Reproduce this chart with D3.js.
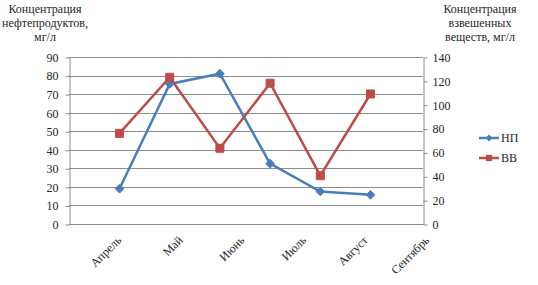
<!DOCTYPE html>
<meta charset="utf-8">
<head>
    <script src="https://d3js.org/d3.v7.min.js"></script>
    <style>
        body { margin: 0; background: #fff; }
    </style>
</head>
<body>
<div id="my_dataviz"></div>
</body>

<script>

    // data
    var months = ["Апрель", "Май", "Июнь", "Июль", "Август", "Сентябрь"];
    var np = [19, 75.5, 81, 32.5, 17.5, 15.7];       // нефтепродукты, left axis
    var vv = [76, 123, 63.5, 118, 40.5, 109];        // взвешенные вещества, right axis
    var leftTicks = [0, 10, 20, 30, 40, 50, 60, 70, 80, 90];
    var rightTicks = [0, 20, 40, 60, 80, 100, 120, 140];
    var seriesNames = ["НП", "ВВ"];

    var width = 538, height = 285;
    var plot = {left: 69, right: 423, top: 57, bottom: 224};
    var font = "'Liberation Serif', 'Times New Roman', serif";
    var textColor = "#262626";

    var svg = d3.select("#my_dataviz")
        .append("svg")
        .attr("width", width)
        .attr("height", height)
        .style("font-family", font);

    var yL = d3.scaleLinear().domain([0, 90]).range([plot.bottom, plot.top]);
    var yR = d3.scaleLinear().domain([0, 140]).range([plot.bottom, plot.top]);
    // points sit on their own slots, labels are placed a bit to the right
    var x = d3.scalePoint().domain(months).range([119.5, 370.5]);
    var xLab = d3.scalePoint().domain(months).range([122, 430]);

    var grey = "#8c8c8c";

    // gridlines
    svg.append("g")
        .selectAll("line")
        .data(leftTicks.slice(1))
        .enter().append("line")
        .attr("x1", plot.left)
        .attr("x2", plot.right)
        .attr("y1", function(d) { return Math.round(yL(d)) + 0.5; })
        .attr("y2", function(d) { return Math.round(yL(d)) + 0.5; })
        .attr("stroke", grey)
        .attr("stroke-width", 1);

    // left axis
    var gL = svg.append("g")
        .attr("transform", "translate(" + (plot.left + 0.5) + ",0.5)")
        .call(d3.axisLeft(yL).tickValues(leftTicks).tickSizeInner(4).tickSizeOuter(0).tickPadding(7));

    // right axis
    var gR = svg.append("g")
        .attr("transform", "translate(" + (plot.right + 0.5) + ",0.5)")
        .call(d3.axisRight(yR).tickValues(rightTicks).tickSizeInner(4).tickSizeOuter(0).tickPadding(5));

    [gL, gR].forEach(function(g) {
        g.attr("font-family", null).attr("font-size", null);
        g.selectAll("path, line").attr("stroke", grey);
        g.selectAll("text")
            .style("font-size", "12px")
            .style("font-family", font)
            .attr("fill", textColor);
    });

    // bottom axis line
    svg.append("line")
        .attr("x1", plot.left)
        .attr("x2", plot.right + 1)
        .attr("y1", plot.bottom + 0.5)
        .attr("y2", plot.bottom + 0.5)
        .attr("stroke", grey);

    // category labels, rotated
    svg.append("g")
        .selectAll("text")
        .data(months)
        .enter().append("text")
        .attr("transform", function(d) {
            return "translate(" + xLab(d) + "," + (plot.bottom + 17) + ") rotate(-45)";
        })
        .style("text-anchor", "end")
        .style("font-size", "12px")
        .style("font-family", font)
        .attr("fill", textColor)
        .text(function(d) { return d; });

    // lines
    var blue = "#4a7ebb", red = "#be4b48";

    var lineL = d3.line()
        .x(function(d, i) { return x(months[i]); })
        .y(function(d) { return yL(d); });
    var lineR = d3.line()
        .x(function(d, i) { return x(months[i]); })
        .y(function(d) { return yR(d); });

    svg.append("path")
        .datum(np)
        .attr("d", lineL)
        .attr("fill", "none")
        .attr("stroke", blue)
        .attr("stroke-width", 2.5);

    svg.append("path")
        .datum(vv)
        .attr("d", lineR)
        .attr("fill", "none")
        .attr("stroke", red)
        .attr("stroke-width", 2.5);

    var diamond = d3.symbol().type(d3.symbolDiamond2).size(48);
    var square = d3.symbol().type(d3.symbolSquare).size(64);

    svg.append("g")
        .selectAll("path")
        .data(np)
        .enter().append("path")
        .attr("d", diamond)
        .attr("transform", function(d, i) { return "translate(" + x(months[i]) + "," + yL(d) + ")"; })
        .attr("fill", blue)
        .attr("stroke", blue);

    svg.append("g")
        .selectAll("path")
        .data(vv)
        .enter().append("path")
        .attr("d", square)
        .attr("transform", function(d, i) { return "translate(" + x(months[i]) + "," + yR(d) + ")"; })
        .attr("fill", red)
        .attr("stroke", red);

    // axis titles
    var leftTitle = ["Концентрация", "нефтепродуктов,", "мг/л"];
    var rightTitle = ["Концентрация", "взвешенных", "веществ, мг/л"];

    svg.append("g").selectAll("text")
        .data(leftTitle)
        .enter().append("text")
        .attr("x", 45)
        .attr("y", function(d, i) { return 13 + i * 14; })
        .style("text-anchor", "middle")
        .style("font-size", "12px")
        .style("font-family", font)
        .attr("fill", textColor)
        .text(function(d) { return d; });

    svg.append("g").selectAll("text")
        .data(rightTitle)
        .enter().append("text")
        .attr("x", 480)
        .attr("y", function(d, i) { return 13 + i * 14; })
        .style("text-anchor", "middle")
        .style("font-size", "12px")
        .style("font-family", font)
        .attr("fill", textColor)
        .text(function(d) { return d; });

    // legend
    var legendData = [
        {label: seriesNames[0], color: blue, sym: d3.symbol().type(d3.symbolDiamond2).size(30)},
        {label: seriesNames[1], color: red, sym: d3.symbol().type(d3.symbolSquare).size(40)}
    ];

    var legend = svg.append("g")
        .attr("transform", "translate(479,138)");

    var item = legend.selectAll("g")
        .data(legendData)
        .enter().append("g")
        .attr("transform", function(d, i) { return "translate(0," + (i * 20) + ")"; });

    item.append("line")
        .attr("x1", 0)
        .attr("x2", 20)
        .attr("stroke", function(d) { return d.color; })
        .attr("stroke-width", 2.5);

    item.append("path")
        .attr("d", function(d) { return d.sym(); })
        .attr("transform", "translate(10,0)")
        .attr("fill", function(d) { return d.color; });

    item.append("text")
        .attr("x", 22)
        .attr("y", 4)
        .style("font-size", "12px")
        .style("font-family", font)
        .attr("fill", textColor)
        .text(function(d) { return d.label; });

</script>
